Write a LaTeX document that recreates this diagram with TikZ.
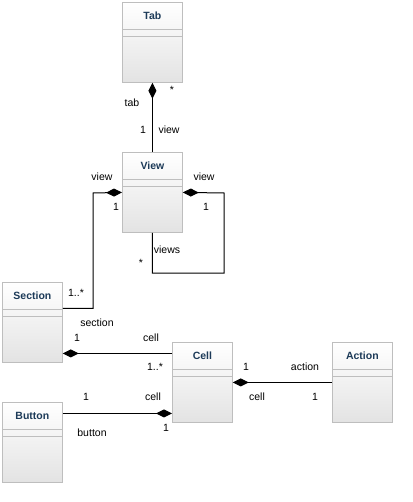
\documentclass[tikz,border=0pt]{standalone}
\usepackage{fontspec}
\setmainfont{Liberation Sans}
\usetikzlibrary{arrows.meta,calc}
\definecolor{titleblue}{RGB}{28,58,88}
\definecolor{boxline}{RGB}{190,190,190}
\tikzset{
  classbox/.style={draw=boxline, line width=0.8pt, top color=white, bottom color=black!11, minimum width=60pt, minimum height=80pt, inner sep=0pt},
  divider/.style={draw=boxline, line width=0.8pt},
  classtitle/.style={font=\fontsize{10.5}{12}\selectfont\bfseries, text=titleblue, inner sep=0pt},
  lbl/.style={font=\fontsize{10.5}{12}\selectfont, inner sep=0pt},
  comp/.style={draw=black, line width=1pt, -{Diamond[length=16pt,width=8pt,fill=black]}},
  assoc/.style={draw=black, line width=1pt}
}
\newcommand\umlclass[4]{%
  \node[classbox, anchor=north west] (#1) at (#2,#3) {};
  \draw[divider] ([yshift=-27pt]#1.north west) -- ([yshift=-27pt]#1.north east);
  \draw[divider] ([yshift=-34pt]#1.north west) -- ([yshift=-34pt]#1.north east);
  \node[classtitle] (#1-title) at ([yshift=-14pt]#1.north) {#4};
}
\begin{document}
\begin{tikzpicture}[x=1pt,y=-1pt]
\useasboundingbox (0,0) rectangle (412,502);
\umlclass{tab}{122}{2}{Tab}
\umlclass{view}{122}{152}{View}
\umlclass{section}{2}{282}{Section}
\umlclass{cell}{172}{342}{Cell}
\umlclass{action}{332}{342}{Action}
\umlclass{button}{2}{402}{Button}

% Tab - View
\draw[comp] (view.north) -- (tab.south);
% View - Section
\coordinate (lv) at (93,193);
\draw[comp] ([yshift=14pt]section.east) -| (lv) -- (view.west);
% View self loop
\coordinate (rb) at (224,273);
\coordinate (rt) at (224,193);
\draw[comp] (view.south) |- (rb) -- (rt) -- (view.east);
% Section - Cell
\draw[comp] ([yshift=29pt]cell.west) -- ([yshift=29pt]cell.west -| section.east);
% Cell - Action
\draw[comp] (action.west) -- (cell.east);
% Button - Cell
\draw[comp] ([yshift=29pt]button.east) -- ([yshift=29pt]button.east -| cell.west);

% labels
\node[lbl] (l1) at (172,90) {*};
\node[lbl] (l2) at (132,103) {tab};
\node[lbl] (l3) at (143,130) {1};
\node[lbl] (l4) at (169,130) {view};
\node[lbl] (l5) at (102,177) {view};
\node[lbl] (l6) at (116,207) {1};
\node[lbl] (l7) at (76,293) {1..*};
\node[lbl] (l8) at (204,177) {view};
\node[lbl] (l9) at (206,207) {1};
\node[lbl] (l10) at (167,250) {views};
\node[lbl] (l11) at (141,263) {*};
\node[lbl] (l12) at (97,323) {section};
\node[lbl] (l13) at (77,338) {1};
\node[lbl] (l14) at (151,338) {cell};
\node[lbl] (l15) at (155,367) {1..*};
\node[lbl] (l16) at (246,367) {1};
\node[lbl] (l17) at (305,367) {action};
\node[lbl] (l18) at (257,397) {cell};
\node[lbl] (l19) at (315,397) {1};
\node[lbl] (l20) at (86,397) {1};
\node[lbl] (l21) at (153,397) {cell};
\node[lbl] (l22) at (92,433) {button};
\node[lbl] (l23) at (166,428) {1};
\end{tikzpicture}
\end{document}
